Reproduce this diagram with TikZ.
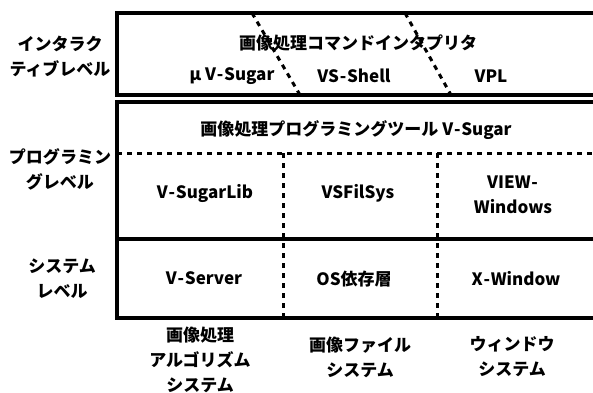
\documentclass[tikz,border=0pt]{standalone}
\usepackage{fontspec}
\newfontfamily\jpfont{Noto Sans CJK JP}
\newcommand{\hy}{\kern0.8pt-\kern0.8pt}
\begin{document}
\begin{tikzpicture}[x=1pt,y=-1pt,
  thickline/.style={line width=4pt},
  dashline/.style={line width=3pt, dash pattern=on 5pt off 5pt},
  lbl/.style={font=\jpfont\bfseries\fontsize{17}{25}\selectfont, inner sep=0pt, align=center}]
\useasboundingbox (0,0) rectangle (593,392);
% frames
\draw[thickline] (593,13) -- (117,13) -- (117,95) -- (593,95);
\draw[thickline] (593,102) -- (117,102) -- (117,318) -- (593,318);
\draw[thickline] (117,239) -- (593,239);
\draw[dashline] (117,153) -- (593,153);
\draw[dashline] (283,153) -- (283,318);
\draw[dashline] (437,153) -- (437,318);
\draw[dashline] (252,13) -- (300,95);
\draw[dashline] (405,13) -- (451,95);
% left labels
\node[lbl] (lv1) at (60,57) {インタラク\\ティブレベル};
\node[lbl] (lv2) at (60,169) {プログラミン\\グレベル};
\node[lbl] (lv3) at (62,279) {システム\\レベル};
% interactive level
\node[lbl] (cmd) at (358,43) {画像処理コマンドインタプリタ};
\node[lbl] (mu) at (232,76) {μ V\hy Sugar};
\node[lbl] (vss) at (354,76) {VS\hy Shell};
\node[lbl] (vpl) at (491,76) {VPL};
% programming level
\node[lbl] (tool) at (356,130) {画像処理プログラミングツール V\hy Sugar};
\node[lbl] (lib) at (205,193) {V\hy SugarLib};
\node[lbl] (fs) at (358,193) {VSFilSys};
\node[lbl] (vw) at (513,195) {VIEW\hy\\Windows};
% system level
\node[lbl] (srv) at (204,278) {V\hy Server};
\node[lbl] (os) at (354,279) {OS依存層};
\node[lbl] (xw) at (516,279) {X\hy Window};
% bottom labels
\node[lbl] (b1) at (200,360) {画像処理\\アルゴリズム\\システム};
\node[lbl] (b2) at (360,357) {画像ファイル\\システム};
\node[lbl] (b3) at (512,357) {ウィンドウ\\システム};
\end{tikzpicture}
\end{document}
